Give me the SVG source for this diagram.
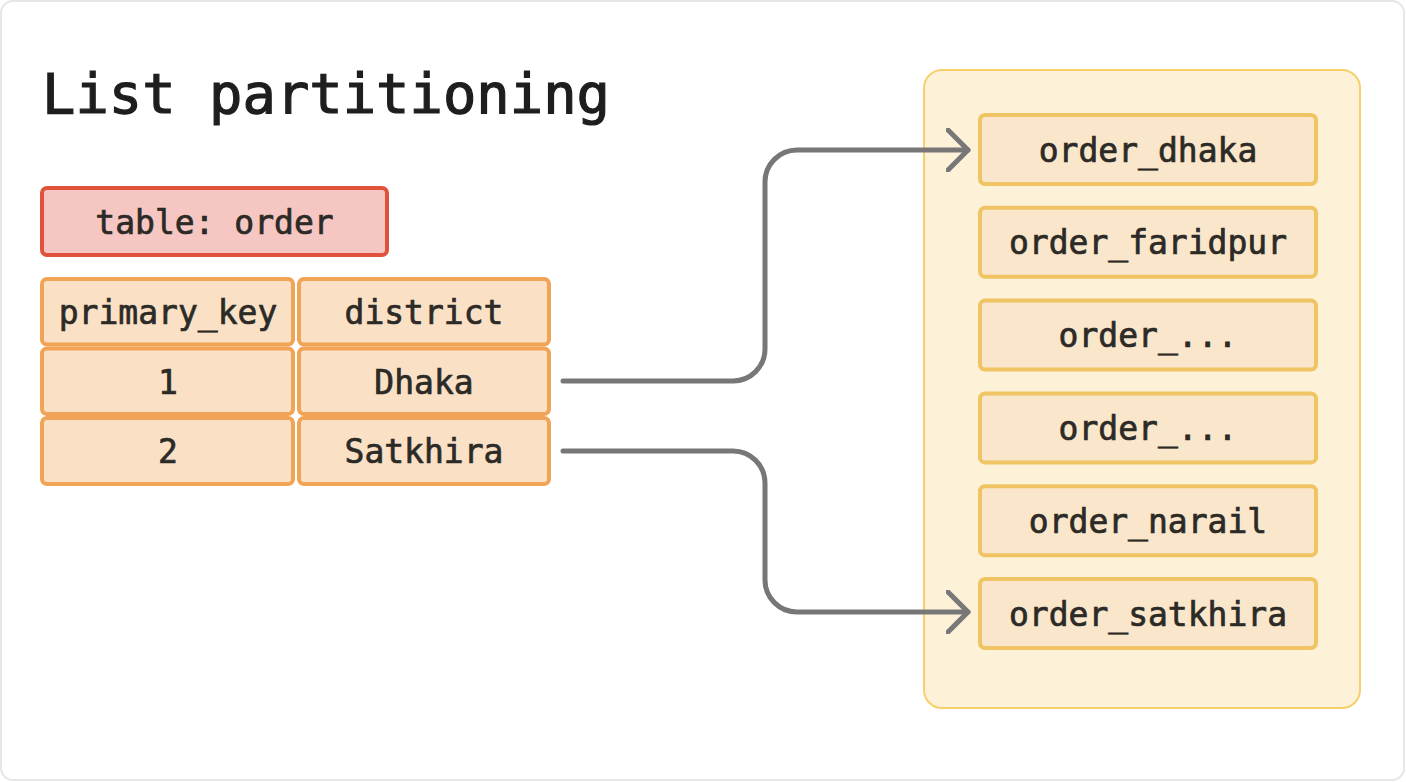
<svg xmlns="http://www.w3.org/2000/svg" width="1406" height="782" viewBox="0 0 1406 782">
<style>
.t{font-family:"DejaVu Sans Mono","Liberation Mono",monospace;font-size:33px;fill:#2c2a26;stroke:#2c2a26;stroke-width:0.7;text-anchor:middle}
.cell{fill:#fae1c6;stroke:#f2a456;stroke-width:4}
.part{fill:#fae6ca;stroke:#f0c463;stroke-width:4}
.conn{fill:none;stroke:#777;stroke-width:5;stroke-linecap:round;stroke-linejoin:round}
</style>
<defs>
<marker id="arr" markerWidth="30" markerHeight="44" refX="22" refY="22" orient="auto" markerUnits="userSpaceOnUse">
<path d="M2,2 L22,22 L2,42" fill="none" stroke="#777" stroke-width="5" stroke-linecap="round" stroke-linejoin="round"/>
</marker>
</defs>
<rect x="1" y="1" width="1403" height="779" rx="12" fill="#fff" stroke="#e6e6e6" stroke-width="2"/>
<text x="42" y="113" style="font-family:'DejaVu Sans Mono','Liberation Mono',monospace;font-size:55px;fill:#1e1e1e;stroke:#1e1e1e;stroke-width:1.2" textLength="568" lengthAdjust="spacingAndGlyphs">List partitioning</text>
<g id="table-title">
<rect x="42" y="188" width="345" height="67" rx="5" fill="#f6c7c2" stroke="#e0533a" stroke-width="4"/>
<text class="t" x="214.5" y="234">table: order</text>
</g>
<g id="table">
<rect class="cell" x="42" y="279" width="251" height="65.5" rx="5"/>
<rect class="cell" x="299" y="279" width="250" height="65.5" rx="5"/>
<rect class="cell" x="42" y="348.5" width="251" height="65.5" rx="5"/>
<rect class="cell" x="299" y="348.5" width="250" height="65.5" rx="5"/>
<rect class="cell" x="42" y="418" width="251" height="66" rx="5"/>
<rect class="cell" x="299" y="418" width="250" height="66" rx="5"/>
<text class="t" x="168" y="324">primary_key</text>
<text class="t" x="424" y="324">district</text>
<text class="t" x="168" y="394">1</text>
<text class="t" x="424" y="394">Dhaka</text>
<text class="t" x="168" y="463">2</text>
<text class="t" x="424" y="463">Satkhira</text>
</g>
<g id="partitions">
<rect x="924" y="70" width="436" height="638" rx="18" fill="#fdf2d8" stroke="#f7d06b" stroke-width="2"/>
<g id="p-dhaka"><rect class="part" x="980" y="115" width="336" height="69" rx="5"/><text class="t" x="1148" y="161.5">order_dhaka</text></g>
<g id="p-faridpur"><rect class="part" x="980" y="207.8" width="336" height="69" rx="5"/><text class="t" x="1148" y="254.3">order_faridpur</text></g>
<g id="p-etc1"><rect class="part" x="980" y="300.6" width="336" height="69" rx="5"/><text class="t" x="1148" y="347.1">order_...</text></g>
<g id="p-etc2"><rect class="part" x="980" y="393.4" width="336" height="69" rx="5"/><text class="t" x="1148" y="439.9">order_...</text></g>
<g id="p-narail"><rect class="part" x="980" y="486.2" width="336" height="69" rx="5"/><text class="t" x="1148" y="532.7">order_narail</text></g>
<g id="p-satkhira"><rect class="part" x="980" y="579" width="336" height="69" rx="5"/><text class="t" x="1148" y="625.5">order_satkhira</text></g>
</g>
<g id="connectors">
<path class="conn" d="M563,381 H733 A32,32 0 0 0 765,349 V182 A32,32 0 0 1 797,150 H968" marker-end="url(#arr)"/>
<path class="conn" d="M563,451 H733 A32,32 0 0 1 765,483 V580 A32,32 0 0 0 797,612 H968" marker-end="url(#arr)"/>
</g>
</svg>
